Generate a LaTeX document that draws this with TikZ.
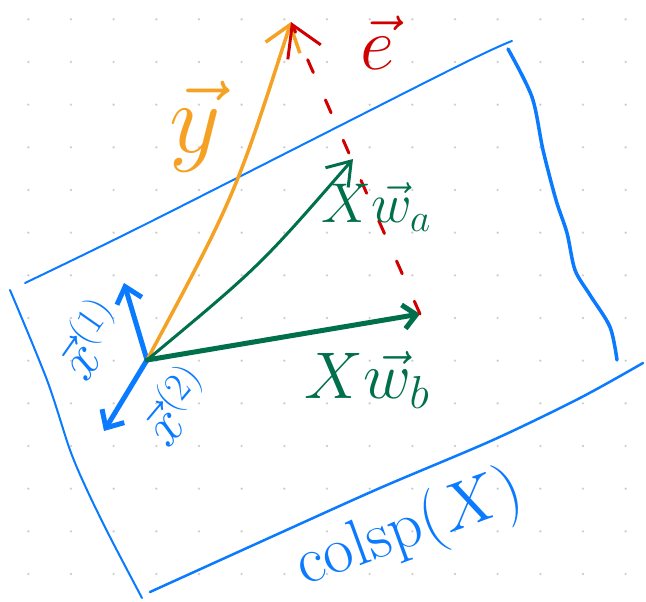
\documentclass[tikz,border=0pt]{standalone}
\usepackage{fix-cm}
\usetikzlibrary{arrows.meta}
\definecolor{penblue}{HTML}{0A7AFF}
\definecolor{pengreen}{HTML}{00704C}
\definecolor{penorange}{HTML}{F5A123}
\definecolor{penred}{HTML}{D00000}
\definecolor{dotgray}{HTML}{CFCFCF}
\newcommand{\fsz}[1]{\fontsize{#1}{#1}\selectfont}
\begin{document}
\begin{tikzpicture}[x=1pt,y=-1pt,line cap=round,line join=round,
    tip/.style 2 args={-{Straight Barb[length=#1pt,width=#2pt]}}]
    \useasboundingbox (0,0) rectangle (646,602);
    \fill[white] (0,0) rectangle (646,602);
    % dot grid
    \foreach \i in {0,...,14}
        \foreach \j in {0,...,13}
            \fill[dotgray] (28.3+42.67*\i,19.3+42.67*\j) circle (1.3);
    % the plane colsp(X)
    \draw[penblue,line width=2] plot[smooth] coordinates {(25,283) (150,222) (450,70) (512,41)};
    \draw[penblue,line width=3.5] plot[smooth] coordinates {(508,49) (532,97) (543,150) (556,200) (567,233) (575,270) (590,295) (610,327) (617,360)};
    \draw[penblue,line width=2.5] plot[smooth] coordinates {(150,592) (280,533) (380,488) (493,440) (580,398) (643,363)};
    \draw[penblue,line width=2] plot[smooth] coordinates {(10,290) (47,380) (70,450) (87,490) (110,537) (142,598)};
    % vectors
    \coordinate (O) at (147,360);
    \coordinate (x1) at (124,283);
    \coordinate (x2) at (104,431);
    \coordinate (y) at (291,22);
    \coordinate (wa) at (353,159);
    \coordinate (wb) at (420,314);
    \draw[penblue,line width=5,tip={15}{26}] (O) -- (x1);
    \draw[penblue,line width=5,tip={14}{26}] (O) -- (x2);
    \draw[penorange,line width=3.5,tip={24}{36}] (O) .. controls (235,196) .. (y);
    \draw[pengreen,line width=3,tip={22}{30}] (O) .. controls (260,266) .. (wa);
    \draw[pengreen,line width=5,tip={13}{24}] (O) -- (wb);
    \draw[penred,line width=3,dash pattern=on 14pt off 30pt,tip={30}{36}] (wb) -- (y);
    % labels
    \node[penorange,font=\fsz{100}] (ylab) at (195,127) {$\vec y$};
    \node[penred,font=\fsz{75}] (elab) at (378,43) {$\vec e$};
    \node[pengreen,font=\fsz{56}] (walab) at (376,207) {$X\vec w_a$};
    \node[pengreen,font=\fsz{66}] (wblab) at (367,380) {$X\vec w_b$};
    \node[penblue,font=\fsz{56},rotate=55] (x1lab) at (88,338) {$\vec x^{(1)}$};
    \node[penblue,font=\fsz{56},rotate=50] (x2lab) at (174,404) {$\vec x^{(2)}$};
    \node[penblue,font=\fsz{66},rotate=20] (span) at (410,530) {$\mathrm{colsp}(X)$};
\end{tikzpicture}
\end{document}
